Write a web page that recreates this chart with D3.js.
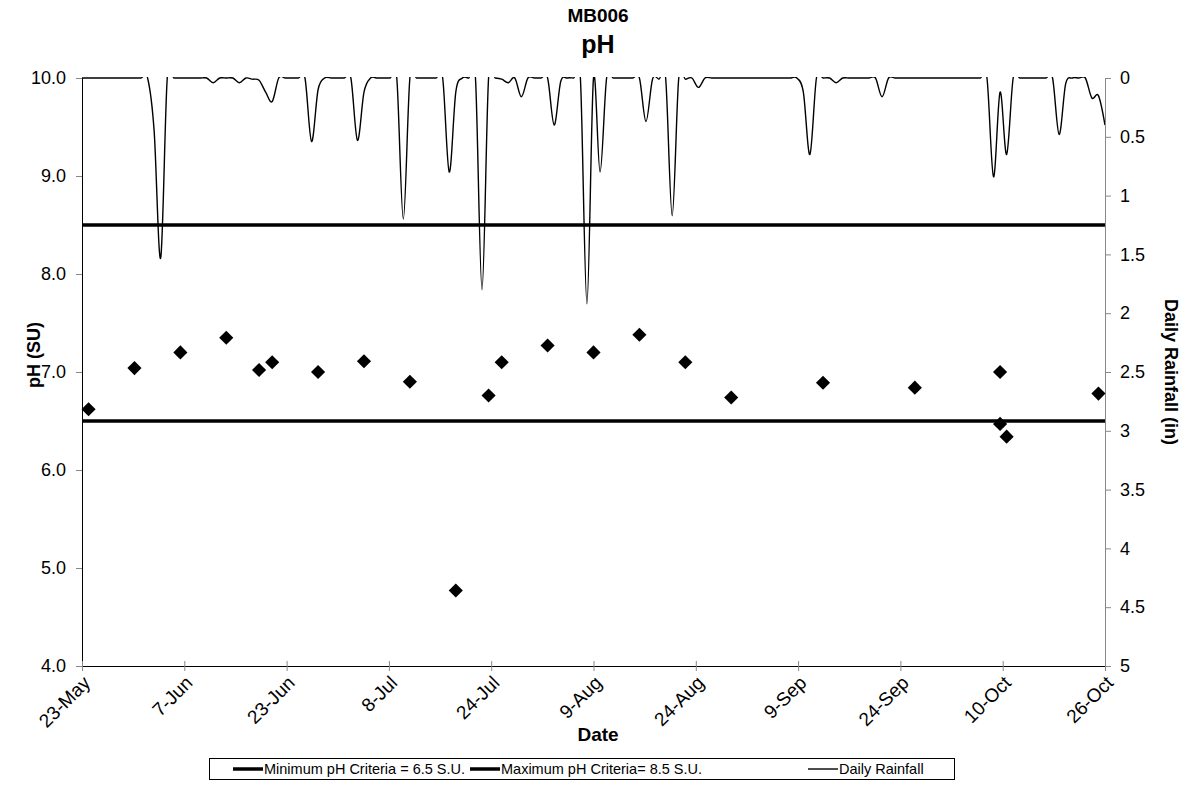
<!DOCTYPE html>
<html>
<head>
<meta charset="utf-8">
<script src="https://cdn.jsdelivr.net/npm/d3@7"></script>
<style>
  html, body { margin: 0; padding: 0; background: #fff; }
  svg { display: block; font-family: "Liberation Sans", Arial, sans-serif; }
</style>
</head>
<body>
<svg id="chart" width="1190" height="812"></svg>
<script>
// ---------------- data ----------------
const startDate = "2008-05-23";
const endDate = "2008-10-26";

// x-axis tick labels (Excel-style evenly spaced date ticks, 15.6-day major unit)
const tickLabels = ["23-May","7-Jun","23-Jun","8-Jul","24-Jul","9-Aug","24-Aug","9-Sep","24-Sep","10-Oct","26-Oct"];
const tickStepDays = 15.6;

// pH samples
const phDates = ["2008-05-24","2008-05-31","2008-06-07","2008-06-14","2008-06-19","2008-06-21",
  "2008-06-28","2008-07-05","2008-07-12","2008-07-19","2008-07-24","2008-07-26","2008-08-02",
  "2008-08-09","2008-08-16","2008-08-23","2008-08-30","2008-09-13","2008-09-27","2008-10-10",
  "2008-10-10","2008-10-11","2008-10-25"];
const phValues = [6.62,7.04,7.20,7.35,7.02,7.10,7.00,7.11,6.90,4.77,6.76,7.10,7.27,7.20,7.38,
  7.10,6.74,6.89,6.84,7.00,6.47,6.34,6.78];

// criteria
const minCriteria = 6.5;
const maxCriteria = 8.5;

// daily rainfall (in), one value per day starting at startDate
const rainfall = [
  0,0,0,0,0,0,0,0,0,0,            // 23-May .. 1-Jun
  0,0.45,1.53,0,0,0,0,0,0,0,      // 2-Jun .. 11-Jun
  0.04,0,0,0,0.04,0,0.01,0.02,0.12,0.2, // 12-Jun .. 21-Jun
  0,0,0,0,0,0.54,0.1,0,0,0,       // 22-Jun .. 1-Jul
  0,0,0.53,0.12,0,0,0,0,0,1.2,    // 2-Jul .. 11-Jul
  0,0,0,0,0,0,0.8,0.12,0,0,       // 12-Jul .. 21-Jul
  0,1.8,0,0,0.01,0.04,0,0.16,0,0, // 22-Jul .. 31-Jul
  0,0,0.4,0.03,0,0,0,1.92,0,0.8,  // 1-Aug .. 10-Aug
  0,0,0,0,0,0,0.37,0.01,0.01,0,   // 11-Aug .. 20-Aug
  1.17,0,0.01,0,0.08,0,0,0,0,0,   // 21-Aug .. 30-Aug
  0,0,0,0,0,0,0,0,0,0,            // 31-Aug .. 9-Sep
  0.12,0.65,0,0,0,0.04,0,0,0,0,   // 10-Sep .. 19-Sep
  0,0,0.16,0,0,0,0,0,0,0,         // 20-Sep .. 29-Sep
  0,0,0,0,0,0,0,0,0,0.84,         // 30-Sep .. 9-Oct
  0.12,0.65,0,0,0,0,0,0,0,0.48,   // 10-Oct .. 19-Oct
  0.05,0,0,0,0.17,0.15,0.4        // 20-Oct .. 26-Oct
];

// ---------------- layout ----------------
const W = 1190, H = 812;
const plot = { left: 82, right: 1105, top: 78, bottom: 666 };
const parse = d3.utcParse("%Y-%m-%d");
const DAY = 86400000;
const t0 = parse(startDate), t1 = parse(endDate);
const FONT = "Liberation Sans, Arial, sans-serif";

const svg = d3.select("#chart");

const x = d3.scaleUtc().domain([t0, t1]).range([plot.left, plot.right]);
const yPh = d3.scaleLinear().domain([4, 10]).range([plot.bottom, plot.top]);
const yRain = d3.scaleLinear().domain([0, 5]).range([plot.top, plot.bottom]);

// clip for rainfall
svg.append("defs").append("clipPath").attr("id", "clip")
  .append("rect").attr("x", plot.left).attr("y", plot.top - 1)
  .attr("width", plot.right - plot.left).attr("height", plot.bottom - plot.top + 1);

// ---------------- rainfall line ----------------
const rainData = rainfall.map((v, i) => ({ date: new Date(t0.getTime() + i * DAY), v }));
const rainLine = d3.line()
  .x(d => x(d.date)).y(d => yRain(d.v))
  .curve(d3.curveCatmullRom.alpha(0));
svg.append("path")
  .datum(rainData)
  .attr("clip-path", "url(#clip)")
  .attr("fill", "none").attr("stroke", "#000").attr("stroke-width", 1.4)
  .attr("d", rainLine);

// ---------------- criteria lines ----------------
[minCriteria, maxCriteria].forEach(c => {
  svg.append("line")
    .attr("x1", plot.left).attr("x2", plot.right)
    .attr("y1", yPh(c)).attr("y2", yPh(c))
    .attr("stroke", "#000").attr("stroke-width", 3.5);
});

// ---------------- axes ----------------
// left pH axis
const leftAxis = svg.append("g").attr("transform", `translate(${plot.left},0)`)
  .call(d3.axisLeft(yPh).tickValues(d3.range(4, 10.001, 1)).tickFormat(d3.format(".1f")).tickSize(6).tickPadding(10));
leftAxis.select(".domain").attr("stroke", "#000");
leftAxis.selectAll(".tick line").attr("stroke", "#888");
leftAxis.selectAll(".tick text").attr("font-size", 18).attr("fill", "#000").attr("font-family", FONT);

// right rainfall axis
const rightAxis = svg.append("g").attr("transform", `translate(${plot.right},0)`)
  .call(d3.axisRight(yRain).tickValues(d3.range(0, 5.001, 0.5)).tickFormat(d3.format("~g")).tickSize(6).tickPadding(9));
rightAxis.select(".domain").attr("stroke", "#888");
rightAxis.selectAll(".tick line").attr("stroke", "#888");
rightAxis.selectAll(".tick text").attr("font-size", 18).attr("fill", "#000").attr("font-family", FONT);

// bottom date axis
const tickDates = tickLabels.map((_, i) => new Date(t0.getTime() + i * tickStepDays * DAY));
const bottomAxis = svg.append("g").attr("transform", `translate(0,${plot.bottom})`)
  .call(d3.axisBottom(x).tickValues(tickDates).tickFormat((d, i) => tickLabels[i]).tickSize(5).tickSizeOuter(0));
bottomAxis.select(".domain").attr("stroke", "#000");
bottomAxis.selectAll(".tick line").attr("stroke", "#888").attr("y1", -5).attr("y2", 5);
bottomAxis.selectAll(".tick text")
  .attr("font-size", 19).attr("fill", "#000").attr("font-family", FONT)
  .attr("text-anchor", "end")
  .attr("dy", null).attr("y", 0)
  .attr("transform", "translate(9,18) rotate(-45)");

// ---------------- pH points ----------------
const diamond = d3.symbol().type(d3.symbolSquare).size(100);
svg.append("g").selectAll("path")
  .data(phDates.map((d, i) => ({ date: parse(d), v: phValues[i] })))
  .join("path")
  .attr("d", diamond)
  .attr("fill", "#000")
  .attr("transform", d => `translate(${x(d.date)},${yPh(d.v)}) rotate(45)`);

// ---------------- titles ----------------
const cx = 598;
svg.append("text").attr("x", cx).attr("y", 22).attr("text-anchor", "middle")
  .attr("font-size", 19).attr("font-weight", "bold").text("MB006");
svg.append("text").attr("x", cx).attr("y", 53).attr("text-anchor", "middle")
  .attr("font-size", 25).attr("font-weight", "bold").text("pH");
svg.append("text").attr("x", cx).attr("y", 741).attr("text-anchor", "middle")
  .attr("font-size", 19).attr("font-weight", "bold").text("Date");
svg.append("text").attr("transform", "translate(40,355) rotate(-90)").attr("text-anchor", "middle")
  .attr("font-size", 18).attr("font-weight", "bold").text("pH (SU)");
svg.append("text").attr("transform", "translate(1165,372) rotate(90)").attr("text-anchor", "middle")
  .attr("font-size", 18).attr("font-weight", "bold").text("Daily Rainfall (in)");

// ---------------- legend ----------------
const legendItems = [
  { label: "Minimum pH Criteria = 6.5 S.U.", width: 3.5, x: 233 },
  { label: "Maximum pH Criteria= 8.5 S.U.", width: 3.5, x: 470 },
  { label: "Daily Rainfall", width: 1.4, x: 808 }
];
const lg = svg.append("g");
lg.append("rect").attr("x", 209.5).attr("y", 758.5).attr("width", 745).attr("height", 21)
  .attr("fill", "#fff").attr("stroke", "#000").attr("stroke-width", 1);
legendItems.forEach(it => {
  lg.append("line").attr("x1", it.x).attr("x2", it.x + 30).attr("y1", 769).attr("y2", 769)
    .attr("stroke", "#000").attr("stroke-width", it.width);
  lg.append("text").attr("x", it.x + 31).attr("y", 774).attr("font-size", 14.5).text(it.label);
});
</script>
</body>
</html>
